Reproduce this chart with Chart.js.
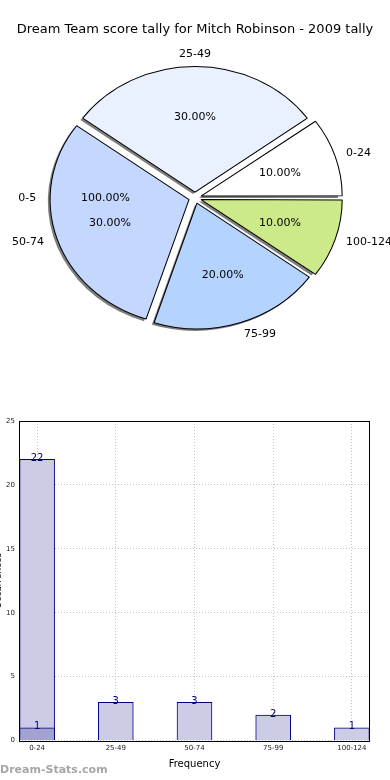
<!DOCTYPE html>
<html>
<head>
<meta charset="utf-8">
<script src="https://cdn.jsdelivr.net/npm/chart.js@4"></script>
<style>
  body { margin: 0; background: #fff; width: 390px; height: 780px; overflow: hidden; position: relative; }
  #pieBox { position: absolute; left: 0; top: 0; width: 390px; height: 358px; }
  #barBox { position: absolute; left: -7px; top: 400px; width: 397px; height: 375px; }
  #mark { position: absolute; left: 0; top: 763px; font: bold 11px "DejaVu Sans", sans-serif; color: #a6a6a6; }
</style>
</head>
<body>
<div id="pieBox"><canvas id="pieChart"></canvas></div>
<div id="barBox"><canvas id="barChart"></canvas></div>
<div id="mark">Dream-Stats.com</div>
<script>
const categories = ["0-24", "25-49", "50-74", "75-99", "100-124"];
const tally = [22, 3, 3, 2, 1];
const played = [1, 3, 3, 2, 1];
const zeroToFive = [1];
const ghostLabels = ["0-5"];
const ghostValues = [100];
const sliceColors = ["#ffffff", "#e9f1ff", "#c4d8ff", "#b4d4ff", "#cdea8a"];
const yTicks = [0, 5, 10, 15, 20, 25];

const font = "DejaVu Sans";
const total = played.reduce((a, b) => a + b, 0);

// matplotlib goes counter-clockwise from east, chart.js clockwise -> reverse
const pieLabels = categories.slice().reverse();
const pieData = played.slice().reverse();
const pieColors = sliceColors.slice().reverse();

const sx = 1.05, sy = 0.95;
const explode = 6; // px, chart.js arc offset is divided by 4 when drawn

const piePlugin = {
  id: "piePlugin",
  beforeDatasetsDraw(chart) {
    const ctx = chart.ctx;
    const a = chart.chartArea;
    const cx = (a.left + a.right) / 2, cy = (a.top + a.bottom) / 2;
    ctx.save();
    ctx.translate(cx, cy);
    ctx.scale(sx, sy);
    ctx.translate(-cx, -cy);
    // shadow pass under all wedges
    ctx.save();
    ctx.fillStyle = "rgba(40,40,40,0.6)";
    chart.getDatasetMeta(0).data.forEach((arc) => {
      const mid = (arc.startAngle + arc.endAngle) / 2;
      const ox = arc.x + Math.cos(mid) * explode - 2;
      const oy = arc.y + Math.sin(mid) * explode + 2;
      ctx.beginPath();
      ctx.moveTo(ox, oy);
      ctx.arc(ox, oy, arc.outerRadius + 0.5, arc.startAngle, arc.endAngle);
      ctx.closePath();
      ctx.fill();
    });
    ctx.restore();
  },
  afterDatasetsDraw(chart) {
    const ctx = chart.ctx;
    ctx.restore();
    const meta = chart.getDatasetMeta(0);
    ctx.save();
    ctx.font = "11px " + font;
    ctx.fillStyle = "#000";
    ctx.textBaseline = "middle";
    const put = (x0, y0, ang, dist, text, side) => {
      const c = Math.cos(ang), s = Math.sin(ang);
      const x = x0 + (explode + dist) * c * sx;
      const y = y0 + (explode + dist) * s * sy;
      ctx.textAlign = side ? (c > 0.01 ? "left" : c < -0.01 ? "right" : "center") : "center";
      ctx.fillText(text, x, y);
    };
    let cx = 0, cy = 0, r = 0;
    meta.data.forEach((arc, i) => {
      const mid = (arc.startAngle + arc.endAngle) / 2;
      cx = arc.x; cy = arc.y; r = arc.outerRadius;
      put(arc.x, arc.y, mid, 1.1 * r, pieLabels[i], true);
      put(arc.x, arc.y, mid, 0.6 * r, (pieData[i] / total * 100).toFixed(2) + "%", false);
    });
    // the hidden single-slice pie underneath
    ghostLabels.forEach((lab, i) => {
      put(cx, cy, Math.PI, 1.1 * r, lab, true);
      put(cx, cy, Math.PI, 0.6 * r, ghostValues[i].toFixed(2) + "%", false);
    });
    ctx.restore();
  }
};

new Chart(document.getElementById("pieChart"), {
  type: "pie",
  data: {
    labels: pieLabels,
    datasets: [
      {
        data: pieData,
        backgroundColor: pieColors,
        borderColor: "#000",
        borderWidth: 1,
        offset: explode * 4,
        hoverOffset: explode * 4,
        radius: 132,
        clip: false,
      },
    ],
  },
  options: {
    responsive: true,
    maintainAspectRatio: false,
    animation: false,
    rotation: 90,
    events: [],
    plugins: {
      legend: { display: false },
      tooltip: { enabled: false },
      title: {
        display: true,
        text: "Dream Team score tally for Mitch Robinson - 2009 tally",
        color: "#000",
        font: { family: font, size: 13, weight: "normal" },
        padding: { top: 22, bottom: 0 },
      },
    },
  },
  plugins: [piePlugin],
});

const barPlugin = {
  id: "barPlugin",
  afterDraw(chart) {
    const ctx = chart.ctx;
    const a = chart.chartArea;
    ctx.save();
    ctx.strokeStyle = "#000";
    ctx.lineWidth = 1;
    ctx.strokeRect(Math.round(a.left) + 0.5, Math.round(a.top) + 0.5,
      Math.round(a.right - a.left) - 1, Math.round(a.bottom - a.top));
    ctx.font = "10px " + font;
    ctx.fillStyle = "#000080";
    ctx.textAlign = "center";
    ctx.textBaseline = "middle";
    chart.data.datasets.forEach((ds, di) => {
      chart.getDatasetMeta(di).data.forEach((el, i) => {
        ctx.fillText(String(ds.data[i].y), el.x, el.y - 1);
      });
    });
    ctx.restore();
  }
};

new Chart(document.getElementById("barChart"), {
  type: "bar",
  data: {
    datasets: [
      {
        label: "0-5",
        data: zeroToFive.map((v, i) => ({ x: i, y: v })),
        backgroundColor: "rgb(163,163,210)",
        borderColor: "#000080",
        borderWidth: 1,
        barThickness: 35,
        grouped: false,
      },
      {
        label: "Frequency",
        data: tally.map((v, i) => ({ x: i, y: v })),
        backgroundColor: "rgb(204,204,230)",
        borderColor: "#000080",
        borderWidth: 1,
        barThickness: 35,
        grouped: false,
      },
    ],
  },
  options: {
    responsive: true,
    maintainAspectRatio: false,
    animation: false,
    events: [],
    layout: { padding: { top: 21, right: 20, bottom: 5, left: 0 } },
    scales: {
      x: {
        type: "linear",
        offset: false,
        min: -0.23,
        max: categories.length - 1 + 0.23,
        ticks: {
          stepSize: 1,
          includeBounds: false,
          padding: 3,
          color: "#222",
          font: { family: font, size: 7 },
          callback: (v) => categories[v] ?? "",
        },
        grid: { color: "#c4c4c4", drawTicks: false, offset: false },
        border: { display: false, dash: [1, 2] },
        title: {
          display: true,
          text: "Frequency",
          color: "#000",
          font: { family: font, size: 10 },
          padding: { top: 3, bottom: 0 },
        },
      },
      y: {
        min: 0,
        max: 25,
        afterBuildTicks: (scale) => { scale.ticks = yTicks.map((v) => ({ value: v })); },
        afterFit: (scale) => { scale.width = 26; },
        ticks: {
          padding: 4,
          color: "#222",
          font: { family: font, size: 7 },
        },
        grid: { color: "#c4c4c4", drawTicks: false },
        border: { display: false, dash: [1, 2] },
        title: {
          display: true,
          text: "Occurrences",
          color: "#000",
          font: { family: font, size: 9 },
          padding: 0,
        },
      },
    },
    plugins: {
      legend: { display: false },
      tooltip: { enabled: false },
    },
  },
  plugins: [barPlugin],
});
</script>
</body>
</html>
